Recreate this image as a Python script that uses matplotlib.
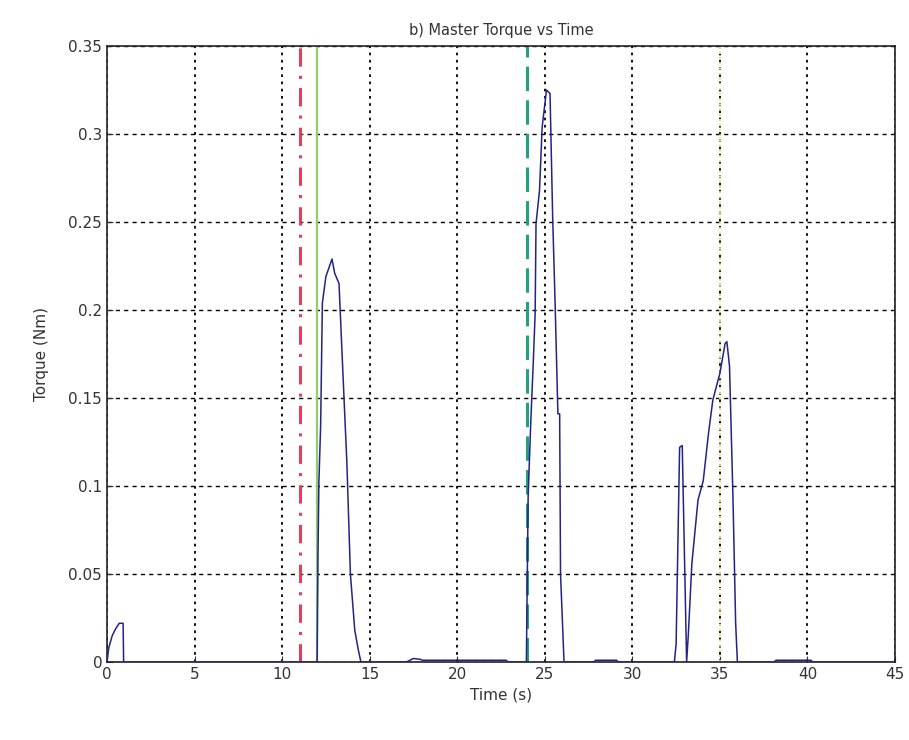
import matplotlib.pyplot as plt
import numpy as np

navy = "#23238a"

# master torque trace (zero between bursts)
time = [
    0.0, 0.1, 0.3, 0.5, 0.7, 0.85, 0.92, 0.95,
    12.0, 12.05, 12.1, 12.2, 12.3, 12.5, 12.85, 13.0, 13.25, 13.5, 13.7, 13.9, 14.15, 14.35, 14.5,
    17.1, 17.5, 17.9, 18.0, 22.8, 22.9,
    23.95, 24.05, 24.2, 24.35, 24.45, 24.5, 24.7, 24.85, 25.1, 25.3, 25.45, 25.6, 25.75, 25.85, 25.9, 26.1,
    27.8, 27.9, 29.1, 29.2,
    32.4, 32.5, 32.7, 32.85, 33.1, 33.2, 33.4, 33.75, 34.05, 34.35, 34.6, 35.0, 35.3, 35.4, 35.55, 35.75, 35.9, 36.0,
    38.1, 38.2, 40.2, 40.3, 45.0,
]
torque = [
    0.0, 0.008, 0.015, 0.019, 0.022, 0.022, 0.022, 0.0,
    0.0, 0.062, 0.102, 0.134, 0.204, 0.219, 0.229, 0.221, 0.215, 0.158, 0.113, 0.05, 0.018, 0.007, 0.0,
    0.0, 0.002, 0.0015, 0.001, 0.001, 0.0,
    0.0, 0.094, 0.136, 0.172, 0.198, 0.249, 0.268, 0.304, 0.325, 0.323, 0.253, 0.2, 0.141, 0.141, 0.05, 0.0,
    0.0, 0.001, 0.001, 0.0,
    0.0, 0.01, 0.122, 0.123, 0.0, 0.016, 0.056, 0.092, 0.103, 0.130, 0.149, 0.164, 0.181, 0.182, 0.168, 0.092, 0.022, 0.0,
    0.0, 0.001, 0.001, 0.0, 0.0,
]

# event markers
marker_times = [11.0, 12.0, 24.0, 35.0]
marker_colors = ["#e0405a", "#90cc70", "#22a082", "#e4e480"]
marker_styles = [(0, (6, 3, 1, 3)), "-", (0, (8, 3)), ":"]
marker_widths = [2.2, 1.6, 2.2, 1.4]

fig = plt.figure(figsize=(9.09, 7.4), dpi=100)
ax = fig.add_axes([0.1177, 0.1054, 0.8669, 0.8324])

for t, c, ls, lw in zip(marker_times, marker_colors, marker_styles, marker_widths):
    ax.axvline(t, color=c, linestyle=ls, linewidth=lw, zorder=2)

ax.plot(time, torque, color=navy, linewidth=1.1, zorder=3)

ax.set_xlim(0, 45)
ax.set_ylim(0, 0.35)
ax.set_xticks(np.arange(0, 46, 5))
ax.set_yticks(np.arange(0, 0.351, 0.05))
ax.set_yticklabels(["0", "0.05", "0.1", "0.15", "0.2", "0.25", "0.3", "0.35"])
ax.xaxis.grid(True, color="black", linestyle=(0, (1.5, 2.5)), linewidth=1.3)
ax.yaxis.grid(True, color="black", linestyle=(0, (3, 3)), linewidth=1.0)
ax.set_axisbelow(True)
ax.tick_params(direction="in", labelsize=11, colors="#333333", length=4)
for s in ax.spines.values():
    s.set_linewidth(1.2)
    s.set_color("#222222")

ax.set_title("b) Master Torque vs Time", fontsize=10.5, color="#333333", pad=8)
ax.set_xlabel("Time (s)", fontsize=11, color="#333333")
ax.set_ylabel("Torque (Nm)", fontsize=11, color="#333333", labelpad=14)

plt.savefig("out.png")
